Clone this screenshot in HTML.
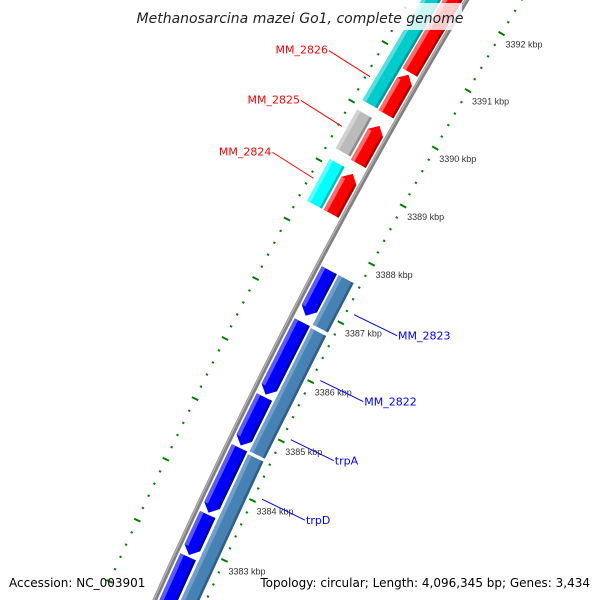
<!DOCTYPE html>
<html><head><meta charset="utf-8"><style>
html,body{margin:0;padding:0;background:#fff;overflow:hidden;width:600px;height:600px;}
svg{display:block;font-family:"DejaVu Sans","Liberation Sans",sans-serif;overflow:hidden;}
</style></head><body>
<svg id="map" width="600" height="600" viewBox="0 0 600 600" xmlns="http://www.w3.org/2000/svg">
<g id="rulers"></g>
<g id="backbone"></g>
<g id="genes"></g>
<g id="labels"></g>
<rect x="136" y="3" width="326" height="27" fill="#fff" opacity="0.8"/>
<text x="300" y="23" text-anchor="middle" font-size="14" font-style="italic" fill="#222">Methanosarcina mazei Go1, complete genome</text>
<text x="9" y="587" font-size="12" fill="#000">Accession: NC_003901</text>
<text x="590" y="587" text-anchor="end" font-size="12" fill="#000">Topology: circular; Length: 4,096,345 bp; Genes: 3,434</text>
</svg>
<script>
// data (kbp)
const fwdStart = [3390.80, 3390.08, 3389.23, 3388.38];
const fwdEnd   = [3393.20, 3390.76, 3389.88, 3389.06];
const cogStart = [3390.09, 3389.27, 3388.38];
const cogEnd   = [3393.20, 3389.93, 3389.09];
const cogColor = ["#00cccc", "#bbbbbb", "#00ffff"];
const revStart = [3386.85, 3385.52, 3384.67, 3383.55, 3382.85, 3381.40];
const revEnd   = [3387.62, 3386.74, 3385.48, 3384.63, 3383.52, 3382.82];
const stStart  = [3386.78, 3384.65, 3381.40];
const stEnd    = [3387.62, 3386.72, 3384.60];
const tickLabels = [3383, 3384, 3385, 3386, 3387, 3388, 3389, 3390, 3391, 3392];
const fwdNames = ["MM_2826", "MM_2825", "MM_2824"];
const fwdNameKbp = [3390.45, 3389.6, 3388.72];
const revNames = ["MM_2823", "MM_2822", "trpA", "trpD"];
const revNameKbp = [3387.2, 3386.08, 3385.08, 3384.08];

const NS = "http://www.w3.org/2000/svg";
const CX = 5440, CY = 2967, R = 5791;
function ang(k){ return (209.39 + 0.66*(k-3390))*Math.PI/180; }
function P(r,k){ const a=ang(k); return [CX+r*Math.cos(a), CY+r*Math.sin(a)]; }
function pts(list){ return list.map(p=>p[0].toFixed(2)+","+p[1].toFixed(2)).join(" "); }
function mk(tag, parent, attrs){ const e=document.createElementNS(NS,tag); for(const k in attrs) e.setAttribute(k,attrs[k]); parent.appendChild(e); return e; }

// rulers
const rul = document.getElementById("rulers");
for(let i=0;i<=55;i++){
  const k = 3382 + i*0.2;
  const major = (i%5===0);
  [R+49, R-47].forEach((rr,j)=>{
    const h = major?3.5:1.1;
    const a=P(rr-h,k), b=P(rr+h,k);
    const l = mk("line", rul, {x1:a[0],y1:a[1],x2:b[0],y2:b[1],stroke:"#008000","stroke-width":2});
    
    
  });
}
tickLabels.forEach(k=>{
  const p = P(R-47,k);
  const t = mk("text", rul, {x:p[0]+4, y:p[1]+14, "font-size":9, fill:"#333", "font-family":"Liberation Sans, sans-serif"});
  t.textContent = k + " kbp";
  
  
});

// backbone
const bb = document.getElementById("backbone");
const bpts=[]; for(let k=3381.8;k<=3393.2;k+=0.25) bpts.push(P(R,k));
const b1 = mk("polyline", bb, {points:pts(bpts), fill:"none", stroke:"#808080", "stroke-width":4.5});


const bpts2=[]; for(let k=3381.8;k<=3393.2;k+=0.25) bpts2.push(P(R+1,k));
const b2 = mk("polyline", bb, {points:pts(bpts2), fill:"none", stroke:"#b0b0b0", "stroke-width":1.5});



// genes
const gg = document.getElementById("genes");
function block(r1,r2,k1,k2,arrow,fill,light,dark,name){
  const g = mk("g", gg, {});
  
  
  const rm=(r1+r2)/2, ah=0.12;
  let poly, s1=k1, s2=k2;
  if(arrow===1){ s2=k2-ah; poly=[P(r1,k1),P(r2,k1),P(r2,s2),P(rm,k2),P(r1,s2)]; }
  else if(arrow===-1){ s1=k1+ah; poly=[P(r1,k2),P(r2,k2),P(r2,s1),P(rm,k1),P(r1,s1)]; }
  else poly=[P(r1,k1),P(r2,k1),P(r2,k2),P(r1,k2)];
  mk("polygon", g, {points:pts(poly), fill:fill});
  const ro=Math.max(r1,r2), ri=Math.min(r1,r2);
  mk("polygon", g, {points:pts([P(ro-4,s1),P(ro,s1),P(ro,s2),P(ro-4,s2)]), fill:light});
  mk("polygon", g, {points:pts([P(ri,s1),P(ri+2.5,s1),P(ri+2.5,s2),P(ri,s2)]), fill:dark});
}
for(let i=0;i<fwdStart.length;i++) block(R+4,R+21,fwdStart[i],fwdEnd[i],1,"#ff0000","#ff6a6a","#b00000","forward-gene");
for(let i=0;i<cogStart.length;i++) block(R+23,R+40,cogStart[i],cogEnd[i],0,cogColor[i],"rgba(255,255,255,0.35)","rgba(0,0,0,0.25)","cog-feature");
for(let i=0;i<revStart.length;i++) block(R-21,R-4,revStart[i],revEnd[i],-1,"#0000ff","#5a5aff","#0000a0","reverse-gene");
for(let i=0;i<stStart.length;i++) block(R-40,R-23,stStart[i],stEnd[i],0,"#4682b4","#6fa0cc","#2f5f88","reverse-cog-feature");

// labels
const lg = document.getElementById("labels");
fwdNames.forEach((n,i)=>{
  const a=P(R+45,fwdNameKbp[i]); const b=[a[0]-41, a[1]-26];
  const l = mk("line", lg, {x1:a[0],y1:a[1],x2:b[0],y2:b[1],stroke:"#ff0000","stroke-width":1});
  
  
  const t = mk("text", lg, {x:b[0]-1, y:b[1]+3, "text-anchor":"end", "font-size":11, fill:"#ff0000"});
  t.textContent = n;
  
  
});
revNames.forEach((n,i)=>{
  const a=P(R-55,revNameKbp[i]); const b=[a[0]+43, a[1]+21];
  const l = mk("line", lg, {x1:a[0],y1:a[1],x2:b[0],y2:b[1],stroke:"#0000ff","stroke-width":1});
  
  
  const t = mk("text", lg, {x:b[0]+1, y:b[1]+4, "font-size":11, fill:"#0000ff"});
  t.textContent = n;
  
  
});
</script>
</body></html>
